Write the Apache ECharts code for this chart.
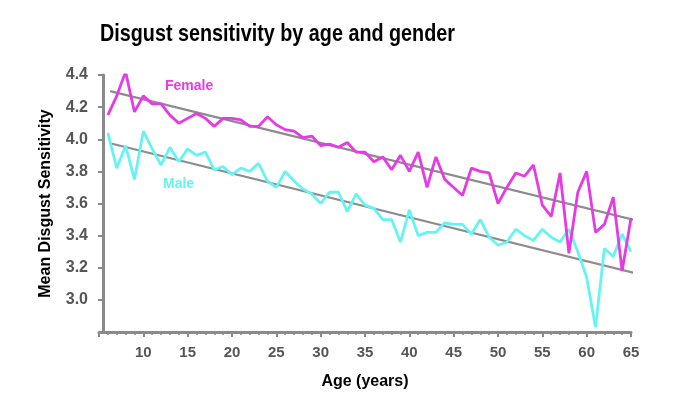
<!DOCTYPE html>
<html><head><meta charset="utf-8">
<script src="https://cdn.jsdelivr.net/npm/echarts@6/dist/echarts.min.js"></script>
<style>html,body{margin:0;padding:0;background:#fff}#c{width:674px;height:398px}</style>
</head><body><div id="c"></div>
<script>
const ages = [6,7,8,9,10,11,12,13,14,15,16,17,18,19,20,21,22,23,24,25,26,27,28,29,30,31,32,33,34,35,36,37,38,39,40,41,42,43,44,45,46,47,48,49,50,51,52,53,54,55,56,57,58,59,60,61,62,63,64,65];
const female = [4.15,4.27,4.42,4.17,4.27,4.22,4.22,4.15,4.10,4.13,4.16,4.13,4.08,4.13,4.13,4.12,4.08,4.08,4.14,4.09,4.06,4.05,4.01,4.02,3.96,3.97,3.95,3.98,3.92,3.92,3.86,3.89,3.81,3.90,3.80,3.92,3.70,3.89,3.75,3.70,3.65,3.82,3.80,3.79,3.60,3.70,3.79,3.77,3.84,3.59,3.52,3.79,3.29,3.67,3.80,3.42,3.47,3.64,3.18,3.51];
const male = [4.04,3.82,3.96,3.75,4.05,3.94,3.84,3.95,3.86,3.94,3.90,3.92,3.81,3.83,3.78,3.82,3.80,3.85,3.74,3.70,3.80,3.74,3.69,3.66,3.60,3.67,3.67,3.55,3.66,3.59,3.57,3.50,3.50,3.36,3.56,3.40,3.42,3.42,3.48,3.47,3.47,3.41,3.50,3.39,3.34,3.36,3.44,3.40,3.37,3.44,3.39,3.36,3.44,3.30,3.14,2.83,3.32,3.27,3.41,3.30];
const trendAges = [6.25, 65.25];
const femaleTrend = [4.30, 3.50];
const maleTrend = [3.975, 3.17];
const titleText = 'Disgust sensitivity by age and gender';

const FEMALE_C = '#e63ae6';
const MALE_C = '#66f3f3';
const GRAY = '#8c8c8c';
const AXIS_C = '#8a8a8a';
const SANS = "'Liberation Sans','Helvetica',sans-serif";

const pair = (xs, ys) => xs.map((x, i) => [x, ys[i]]);

const chart = echarts.init(document.getElementById('c'), null, {renderer: 'canvas'});
chart.setOption({
  backgroundColor: '#ffffff',
  animation: false,
  grid: {left: 99, right: 43, top: 75, bottom: 66},
  xAxis: {
    type: 'value', min: 5, max: 65, interval: 5,
    name: 'Age (years)', nameLocation: 'middle', nameGap: 42,
    nameTextStyle: {fontFamily: SANS, fontWeight: 'bold', fontSize: 16, color: '#000'},
    axisLine: {show: true, onZero: false, lineStyle: {color: AXIS_C, width: 3}},
    axisTick: {show: true, length: 5, lineStyle: {color: AXIS_C, width: 2}},
    minorTick: {show: true, splitNumber: 5, length: 3, lineStyle: {color: AXIS_C, width: 1.5}},
    axisLabel: {showMinLabel: false, margin: 13, fontFamily: SANS, fontWeight: 'bold', fontSize: 15, color: '#555'},
    splitLine: {show: false}
  },
  yAxis: {
    type: 'value', min: 2.8, max: 4.4, interval: 0.2, offset: -4,
    name: 'Mean Disgust Sensitivity', nameLocation: 'middle', nameGap: 49,
    nameTextStyle: {fontFamily: SANS, fontWeight: 'bold', fontSize: 16, color: '#000'},
    axisLine: {show: true, lineStyle: {color: AXIS_C, width: 3}},
    axisTick: {show: true, length: 5, lineStyle: {color: AXIS_C, width: 2}},
    axisLabel: {showMinLabel: false, margin: 15, fontFamily: SANS, fontWeight: 'bold', fontSize: 16, color: '#555',
      formatter: v => v.toFixed(1)},
    splitLine: {show: false}
  },
  graphic: [
    {type: 'text', left: 100, top: 22, scaleX: 0.824, style: {text: titleText, fill: '#000', font: "bold 24px 'Liberation Sans', sans-serif"}},
    {type: 'text', left: 165, top: 79, style: {text: 'Female', fill: FEMALE_C, font: "bold 14px 'Liberation Sans', sans-serif"}},
    {type: 'text', left: 163, top: 177, style: {text: 'Male', fill: MALE_C, font: "bold 14px 'Liberation Sans', sans-serif"}}
  ],
  series: [
    {type: 'line', data: pair(trendAges, femaleTrend), showSymbol: false, lineStyle: {color: GRAY, width: 2.2}, z: 1},
    {type: 'line', data: pair(trendAges, maleTrend), showSymbol: false, lineStyle: {color: GRAY, width: 2.2}, z: 1},
    {type: 'line', name: 'Female', data: pair(ages, female), showSymbol: false, lineStyle: {color: FEMALE_C, width: 2.8}, z: 3},
    {type: 'line', name: 'Male', data: pair(ages, male), showSymbol: false, lineStyle: {color: MALE_C, width: 2.8}, z: 2}
  ]
});
</script>
</body></html>
